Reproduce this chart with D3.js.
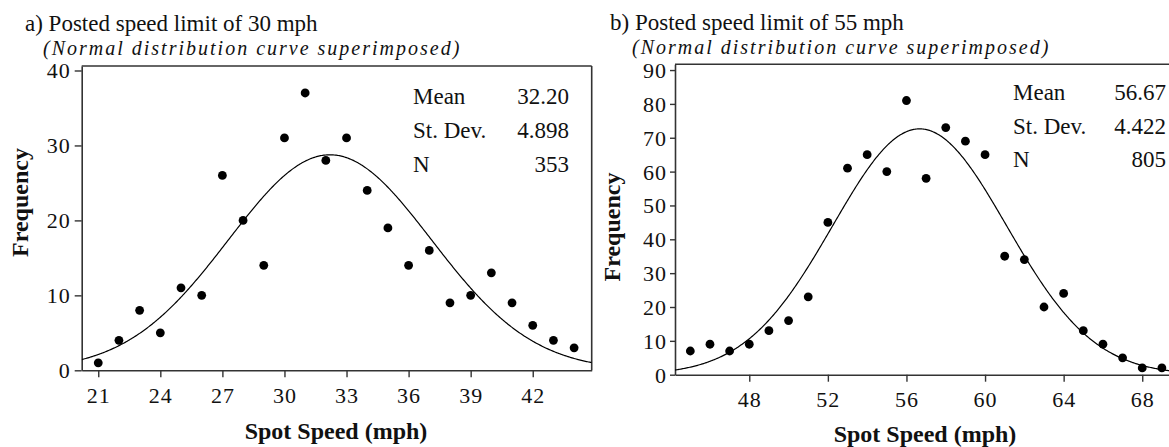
<!DOCTYPE html>
<html><head><meta charset="utf-8">
<script src="https://cdn.jsdelivr.net/npm/d3@7/dist/d3.min.js"></script>
<style>
body{margin:0;background:#fff;}
svg{display:block;font-family:"Liberation Serif","Times New Roman",serif;}
</style></head><body>
<svg id="c" width="1169" height="447"></svg>
<script>
// ---- data ----
const speedsA = [21,22,23,24,25,26,27,28,29,30,31,32,33,34,35,36,37,38,39,40,41,42,43,44];
const freqA   = [1,4,8,5,11,10,26,20,14,31,37,28,31,24,19,14,16,9,10,13,9,6,4,3];
const statsA  = {mean:32.20, sd:4.898, n:353};
const statLabelsA = ["Mean","St. Dev.","N"];
const statValuesA = ["32.20","4.898","353"];
const xTicksA = [21,24,27,30,33,36,39,42];
const yTicksA = [0,10,20,30,40];

const speedsB = [45,46,47,48,49,50,51,52,53,54,55,56,57,58,59,60,61,62,63,64,65,66,67,68,69];
const freqB   = [7,9,7,9,13,16,23,45,61,65,60,81,58,73,69,65,35,34,20,24,13,9,5,2,2];
const statsB  = {mean:56.67, sd:4.422, n:805};
const statLabelsB = ["Mean","St. Dev.","N"];
const statValuesB = ["56.67","4.422","805"];
const xTicksB = [48,52,56,60,64,68];
const yTicksB = [0,10,20,30,40,50,60,70,80,90];

const svg = d3.select("#c");
const AX = "#333";

function panel(cfg){
  const g = svg.append("g");
  const x = d3.scaleLinear().domain(cfg.xd).range(cfg.xr);
  const y = d3.scaleLinear().domain(cfg.yd).range(cfg.yr);
  const id = "clip"+cfg.key;
  svg.append("defs").append("clipPath").attr("id",id).append("rect")
    .attr("x",cfg.xr[0]).attr("y",cfg.yr[1]).attr("width",cfg.xr[1]-cfg.xr[0]).attr("height",cfg.yr[0]-cfg.yr[1]);

  // frame (top + right)
  g.append("line").attr("x1",cfg.xr[0]).attr("x2",cfg.xr[1]).attr("y1",cfg.yr[1]).attr("y2",cfg.yr[1])
    .attr("stroke",AX).attr("stroke-width",1.6);
  g.append("line").attr("x1",cfg.xr[1]).attr("x2",cfg.xr[1]).attr("y1",cfg.yr[1]).attr("y2",cfg.yr[0])
    .attr("stroke",AX).attr("stroke-width",1.6);

  const xa = g.append("g").attr("transform",`translate(0,${cfg.yr[0]})`)
    .call(d3.axisBottom(x).tickValues(cfg.xt).tickSize(7).tickSizeOuter(0).tickPadding(10).tickFormat(d3.format("d")));
  const ya = g.append("g").attr("transform",`translate(${cfg.xr[0]},0)`)
    .call(d3.axisLeft(y).tickValues(cfg.yt).tickSize(cfg.ytick).tickSizeOuter(0).tickPadding(cfg.ypad).tickFormat(d3.format("d")));
  [xa,ya].forEach(a=>{
    a.select(".domain").attr("stroke",AX).attr("stroke-width",1.6);
    a.selectAll(".tick line").attr("stroke",AX).attr("stroke-width",1.4);
    a.selectAll(".tick text").attr("fill","#111").style("font-size","22px").style("font-family","Liberation Serif")
      .style("letter-spacing","1px");
  });
  xa.selectAll(".tick text").attr("dy","0.71em");
  ya.selectAll(".tick text").attr("dy","0.34em");

  // normal curve
  const m=cfg.stats.mean, s=cfg.stats.sd, n=cfg.stats.n;
  const pts = d3.range(cfg.xd[0], cfg.xd[1]+0.05, 0.05).map(v=>[v, n/(s*Math.sqrt(2*Math.PI))*Math.exp(-0.5*((v-m)/s)**2)]);
  g.append("path").datum(pts).attr("clip-path",`url(#${id})`)
    .attr("fill","none").attr("stroke","#000").attr("stroke-width",1.2)
    .attr("d", d3.line().x(d=>x(d[0])).y(d=>y(d[1])));

  // points
  g.append("g").selectAll("circle").data(cfg.sp).join("circle")
    .attr("cx",(d)=>x(d)).attr("cy",(d,i)=>y(cfg.fr[i])).attr("r",4.4).attr("fill","#000");

  // stats
  const st = g.append("g").style("font-size","23px").attr("fill","#111");
  cfg.sl.forEach((l,i)=>{
    st.append("text").attr("x",cfg.statX[0]).attr("y",cfg.statY[i]).text(l);
    st.append("text").attr("x",cfg.statX[1]).attr("y",cfg.statY[i]).attr("text-anchor","end").text(cfg.sv[i]);
  });

  // titles
  g.append("text").attr("x",cfg.t1[0]).attr("y",cfg.t1[1]).style("font-size","23px").attr("fill","#111").text(cfg.title);
  g.append("text").attr("x",cfg.t2[0]).attr("y",cfg.t2[1]).style("font-size","20px").style("font-style","italic")
    .style("letter-spacing","2px").attr("fill","#111")
    .text("(Normal distribution curve superimposed)");

  // axis labels
  g.append("text").attr("transform",`translate(${cfg.yl[0]},${cfg.yl[1]}) rotate(-90)`).attr("text-anchor","middle")
    .style("font-size","24px").style("font-weight","bold").attr("fill","#111").text("Frequency");
  g.append("text").attr("x",cfg.xl[0]).attr("y",cfg.xl[1]).attr("text-anchor","middle")
    .style("font-size","24px").style("font-weight","bold").attr("fill","#111").text("Spot Speed (mph)");
}

panel({key:"A", xd:[20.2,44.85], xr:[81.7,591.7], yd:[0,40.6], yr:[370.3,66],
  xt:xTicksA, yt:yTicksA, ytick:7, ypad:4, stats:statsA, sp:speedsA, fr:freqA,
  sl:statLabelsA, sv:statValuesA, statX:[413,569], statY:[103.5,137.5,171.5],
  title:"a) Posted speed limit of 30 mph", t1:[25,31], t2:[43,54.5], yl:[28,202.5], xl:[336,438.5]});

panel({key:"B", xd:[44.22,69.82], xr:[675,1178], yd:[0,91.7], yr:[374.7,64.3],
  xt:xTicksB, yt:yTicksB, ytick:5, ypad:3, stats:statsB, sp:speedsB, fr:freqB,
  sl:statLabelsB, sv:statValuesB, statX:[1013,1166], statY:[99.5,133.5,167],
  title:"b) Posted speed limit of 55 mph", t1:[610,30], t2:[632,53.5], yl:[620,227], xl:[925,441.5]});
</script>
</body></html>
